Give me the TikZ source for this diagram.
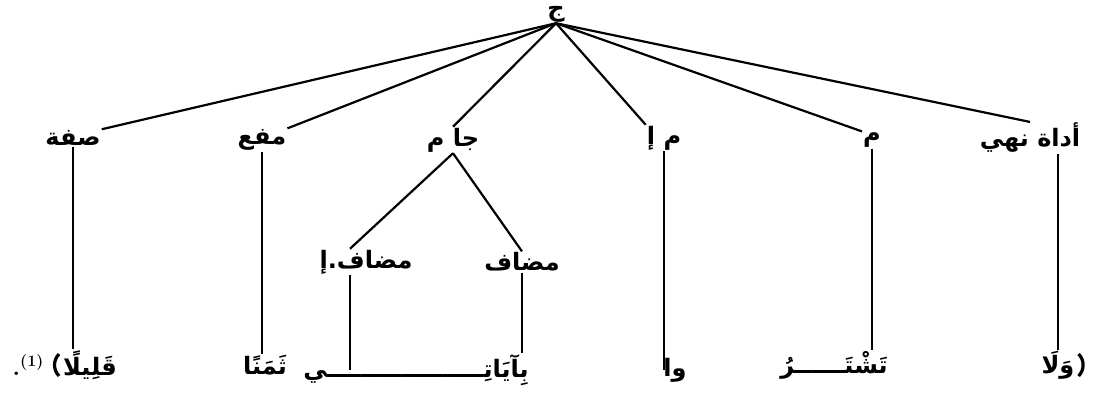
\documentclass[tikz,border=0pt]{standalone}
\usepackage{fontspec}
\newfontfamily\arabicfont[Script=Arabic]{DejaVu Sans}
\TeXXeTstate=1
\newcommand\ar[1]{{\arabicfont\beginR #1\endR}}
\tikzset{
    lbl/.style={font=\fontsize{24}{26}\selectfont\bfseries, inner sep=1pt},
    edge/.style={line width=2.2pt},
    orn/.style={line width=3.2pt}
}
\begin{document}
\begin{tikzpicture}[x=1pt, y=-1pt]
    \useasboundingbox[fill=white] (0,0) rectangle (1094,406);

    % الجذر
    \node[lbl] (root) at (556,14) {\ar{ج}};

    % المستوى الأول
    \node[lbl] (sifa)   at (73,138)   {\ar{صفة}};
    \node[lbl] (mafool) at (262,140)  {\ar{مفع}};
    \node[lbl] (jar)    at (453,140)  {\ar{جا م}};
    \node[lbl] (mI)     at (664,138)  {\ar{م إ}};
    \node[lbl] (mim)    at (872,140)  {\ar{م}};
    \node[lbl] (adat)   at (1030,138) {\ar{أداة نهي}};

    \draw[edge] (root.south) -- (sifa.north east);
    \draw[edge] (root.south) -- (mafool.north east);
    \draw[edge] (root.south) -- (jar.north);
    \draw[edge] (root.south) -- (mI.north west);
    \draw[edge] (root.south) -- (mim.north west);
    \draw[edge] (root.south) -- (adat.north);

    % المضاف والمضاف إليه
    \node[lbl] (mudI)  at (366,262) {\ar{مضاف.إ}};
    \node[lbl] (mudaf) at (522,262) {\ar{مضاف}};
    \draw[edge] (jar.south) -- ([xshift=-16pt]mudI.north);
    \draw[edge] (jar.south) -- (mudaf.north);

    % الآية
    \node[lbl] (qalil)   at (90,365)   {\ar{قَلِيلًا}};
    \node[lbl] (fn)      at (28,365)   {.\raisebox{9pt}{\fontsize{16}{17}\selectfont(1)}};
    \node[lbl] (thaman)  at (265,365)  {\ar{ثَمَنًا}};
    \node[lbl] (ayati)   at (416,370)  {\ar{بِآيَاتِـــــــــــــــــــي}};
    \node[lbl] (wa)      at (675,370)  {\ar{وا}};
    \node[lbl] (tashtar) at (834,365)  {\ar{تَشْتَــــــرُ}};
    \node[lbl] (wala)    at (1058,365) {\ar{وَلَا}};

    % الأقواس المزخرفة
    \draw[orn] ([xshift=-3pt,yshift=-11pt]qalil.west)
        .. controls ([xshift=-9pt,yshift=-5pt]qalil.west) and ([xshift=-9pt,yshift=5pt]qalil.west)
        .. ([xshift=-3pt,yshift=11pt]qalil.west);
    \draw[orn] ([xshift=3pt,yshift=-11pt]wala.east)
        .. controls ([xshift=9pt,yshift=-5pt]wala.east) and ([xshift=9pt,yshift=5pt]wala.east)
        .. ([xshift=3pt,yshift=11pt]wala.east);

    \coordinate (kI) at ([xshift=-16pt]mudI.south);
    \draw[edge] (sifa.south) -- (sifa.south |- qalil.north);
    \draw[edge] (mafool.south) -- (mafool.south |- thaman.north);
    \draw[edge] (kI) -- (kI |- ayati.center);
    \draw[edge] (mudaf.south) -- (mudaf.south |- ayati.north);
    \draw[edge] (mI.south) -- (mI.south |- wa.center);
    \draw[edge] (mim.south) -- (mim.south |- tashtar.north);
    \draw[edge] (wala.north) -- (wala.north |- adat.south);
\end{tikzpicture}
\end{document}
